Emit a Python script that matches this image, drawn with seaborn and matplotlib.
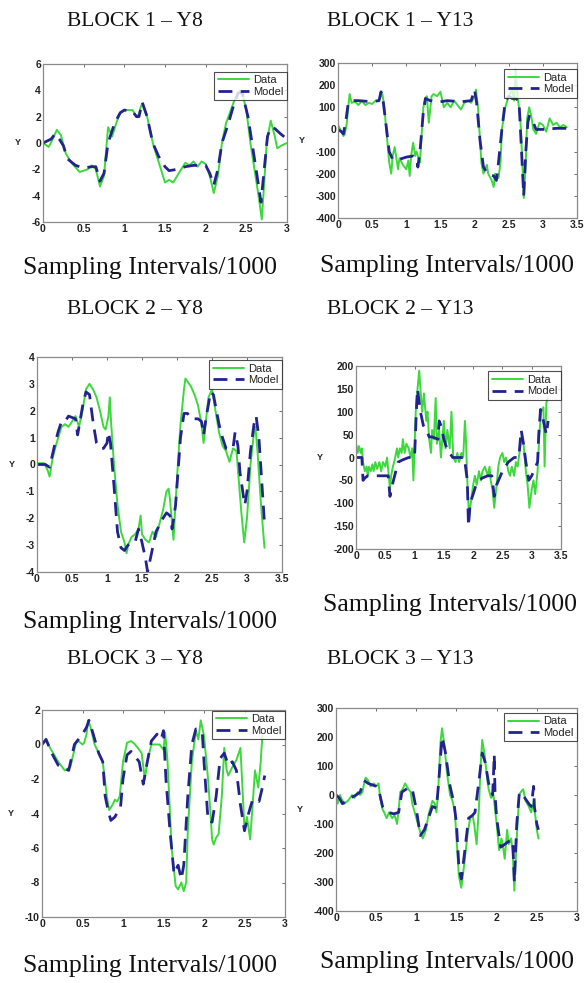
import matplotlib
matplotlib.use("Agg")
import matplotlib.pyplot as plt
import seaborn as sns
import pandas as pd

# ---------------- data ----------------
# BLOCK 1 - Y8
b1y8_data_x = [0, 0.07, 0.12, 0.17, 0.22, 0.28, 0.35, 0.45, 0.55, 0.6, 0.65, 0.7, 0.75, 0.8, 0.85, 0.9, 0.95, 1.0, 1.1,
               1.15, 1.18, 1.2, 1.22, 1.28, 1.35, 1.4, 1.45, 1.5, 1.55, 1.6, 1.65, 1.7, 1.75, 1.8, 1.85, 1.9, 1.95,
               2.0, 2.05, 2.1, 2.15, 2.2, 2.25, 2.28, 2.35, 2.42, 2.45, 2.5, 2.55, 2.6, 2.65, 2.69, 2.72, 2.75, 2.8,
               2.85, 2.88, 2.93, 3.0]
b1y8_data_y = [0, -0.3, 0.3, 1.0, 0.6, -0.8, -1.5, -2.2, -2.0, -1.7, -2.0, -3.3, -2.5, 1.2, 0.5, 1.5, 2.3, 2.5, 2.5,
               2.0, 2.2, 2.7, 3.0, 2.0, 0.0, -1.0, -2.0, -3.0, -2.8, -3.0, -2.5, -2.0, -1.5, -1.7, -1.4, -1.8, -1.4,
               -1.6, -2.5, -3.8, -2.5, 0.0, 1.5, 2.0, 3.2, 4.0, 3.8, 2.5, 0.0, -2.0, -4.0, -5.8, -3.0, 0.0, 1.7,
               0.5, -0.4, -0.2, 0.0]
b1y8_model_x = [0, 0.1, 0.15, 0.2, 0.25, 0.3, 0.4, 0.5, 0.6, 0.65, 0.7, 0.75, 0.8, 0.88, 0.95, 1.0, 1.1, 1.15, 1.18,
                1.22, 1.28, 1.35, 1.42, 1.5, 1.55, 1.65, 1.75, 1.85, 2.0, 2.05, 2.1, 2.15, 2.2, 2.28, 2.35, 2.4, 2.45,
                2.52, 2.57, 2.62, 2.68, 2.72, 2.76, 2.8, 2.85, 2.92, 3.0]
b1y8_model_y = [0, 0.3, 0.7, 0.3, -0.2, -1.2, -1.7, -1.9, -1.8, -1.8, -2.9, -2.3, 0.0, 1.5, 2.3, 2.5, 2.4, 2.0, 2.0,
                3.1, 2.0, 0.0, -1.0, -1.8, -2.1, -2.0, -1.8, -1.7, -1.7, -2.3, -3.2, -2.0, 0.0, 1.5, 3.0, 3.8, 3.8,
                2.0, 0.0, -2.0, -4.5, -2.0, 0.5, 1.2, 1.1, 0.7, 0.3]

# BLOCK 1 - Y13
b1y13_data_x = [0, 0.05, 0.08, 0.1, 0.13, 0.15, 0.17, 0.2, 0.25, 0.3, 0.35, 0.4, 0.45, 0.5, 0.55, 0.6, 0.63, 0.65,
                0.68, 0.7, 0.73, 0.75, 0.78, 0.8, 0.83, 0.85, 0.88, 0.9, 0.95, 1.0, 1.03, 1.05, 1.07, 1.1, 1.13,
                1.15, 1.18, 1.2, 1.22, 1.25, 1.28, 1.3, 1.33, 1.37, 1.4, 1.45, 1.5, 1.55, 1.6, 1.65, 1.7, 1.75,
                1.8, 1.85, 1.9, 1.95, 2.0, 2.02, 2.05, 2.08, 2.1, 2.13, 2.15, 2.18, 2.2, 2.25, 2.28, 2.3, 2.35,
                2.38, 2.4, 2.45, 2.5, 2.55, 2.58, 2.6, 2.63, 2.67, 2.7, 2.72, 2.75, 2.77, 2.8, 2.83, 2.86, 2.9,
                2.95, 3.0, 3.05, 3.1, 3.15, 3.2, 3.25, 3.3, 3.35]
b1y13_data_y = [20, -10, -30, -20, 30, 100, 160, 120, 125, 110, 130, 110, 120, 115, 130, 130, 150, 160,
                100, 20, -80, -150, -200, -120, -80, -120, -180, -130, -160, -180, -140, -210, -120, -60, -120,
                -100, -130, -150, -50, 100, 140, 150, 30, 150, 160, 150, 170, 100, 120, 100, 130, 110,
                90, 120, 130, 120, 150, 180, 100, -50, -150, -200, -180, -160, -200, -230, -260, -200, -220,
                -150, 0, 100, 150, 180, 130, 270, 150, 50, -150, -310, -150, 50, 100, 60, 0, -20,
                30, 20, -10, 50, 20, 30, 10, 20, 10]
b1y13_model_x = [0, 0.05, 0.08, 0.12, 0.15, 0.2, 0.3, 0.5, 0.6, 0.63, 0.66, 0.7, 0.75, 0.8, 0.9, 1.0, 1.1, 1.15,
                 1.17, 1.2, 1.25, 1.28, 1.35, 1.5, 1.6, 1.8, 1.95, 2.0, 2.03, 2.08, 2.13, 2.2, 2.28, 2.32, 2.35,
                 2.4, 2.45, 2.5, 2.55, 2.6, 2.65, 2.68, 2.72, 2.75, 2.78, 2.8, 2.85, 2.9, 3.0, 3.2, 3.35]
b1y13_model_y = [0, -10, -20, 50, 120, 130, 130, 125, 130, 170, 130, 30, -100, -135, -135, -125, -120, -130,
                 -170, -100, 80, 140, 130, 125, 130, 125, 130, 180, 120, -50, -170, -205, -210, -230, -150,
                 0, 130, 150, 140, 140, 130, -50, -300, -100, 30, 60, 40, 0, 0, 5, 5]

# BLOCK 2 - Y8
b2y8_data_x = [0, 0.1, 0.15, 0.18, 0.22, 0.28, 0.35, 0.4, 0.45, 0.5, 0.55, 0.6, 0.65, 0.7, 0.75, 0.8, 0.85, 0.9,
               0.95, 0.98, 1.02, 1.04, 1.06, 1.1, 1.15, 1.2, 1.25, 1.28, 1.3, 1.35, 1.4, 1.45, 1.48, 1.5, 1.55,
               1.6, 1.65, 1.7, 1.75, 1.8, 1.85, 1.88, 1.9, 1.95, 2.0, 2.05, 2.1, 2.12, 2.2, 2.25, 2.3, 2.35,
               2.38, 2.42, 2.45, 2.5, 2.55, 2.6, 2.65, 2.7, 2.75, 2.8, 2.85, 2.88, 2.92, 2.96, 3.0, 3.05, 3.1,
               3.12, 3.15, 3.2, 3.25]
b2y8_data_y = [0.05, 0.05, -0.2, -0.45, 0.2, 0.8, 1.4, 1.5, 1.4, 1.6, 1.8, 1.4, 2.0, 2.8, 3.0, 2.8, 2.5, 2.0,
               1.4, 1.3, 1.8, 2.5, 1.5, 0.0, -1.5, -2.5, -2.9, -3.3, -3.0, -2.7, -2.6, -2.4, -1.9, -2.6, -2.8,
               -2.9, -2.5, -2.7, -2.2, -1.7, -1.0, -0.9, -1.3, -2.8, -0.5, 1.5, 2.8, 3.2, 2.9, 2.6, 2.2, 1.5,
               0.8, 1.8, 2.5, 2.8, 2.0, 1.2, 0.7, 0.5, 0.1, 0.6, 0.5, -0.5, -1.8, -2.9, -2.0, 0.0, 1.2,
               1.4, 0.5, -1.5, -3.1]
b2y8_model_x = [0, 0.12, 0.18, 0.25, 0.3, 0.35, 0.4, 0.45, 0.5, 0.55, 0.58, 0.62, 0.66, 0.7, 0.75, 0.8, 0.85,
                0.9, 0.95, 1.0, 1.02, 1.05, 1.1, 1.15, 1.2, 1.25, 1.3, 1.35, 1.4, 1.45, 1.5, 1.55, 1.58, 1.62,
                1.7, 1.8, 1.85, 1.9, 1.93, 1.98, 2.05, 2.1, 2.15, 2.2, 2.3, 2.35, 2.38, 2.42, 2.48, 2.52, 2.6,
                2.65, 2.7, 2.8, 2.83, 2.87, 2.9, 2.95, 2.97, 3.0, 3.05, 3.1, 3.13, 3.17, 3.22, 3.25]
b2y8_model_y = [0, 0, -0.1, 0.7, 1.2, 1.6, 1.6, 1.8, 1.75, 1.7, 1.1, 1.7, 2.3, 2.7, 2.6, 1.6, 0.8,
                0.6, 0.6, 0.8, 1.2, 0.8, -0.8, -2.5, -3.1, -3.2, -3.0, -2.9, -2.9, -2.4, -2.9, -3.5, -4.0, -3.5,
                -2.5, -2.0, -1.8, -1.9, -2.4, -1.5, 1.0, 1.9, 1.9, 1.7, 1.7, 1.6, 1.1, 1.8, 2.7, 2.6, 1.5,
                1.0, 0.6, 0.6, 1.2, 0.7, -0.3, -1.2, -1.5, -1.0, 0.5, 1.5, 1.8, 1.0, -1.0, -2.2]

# BLOCK 2 - Y13
b2y13_data_x = [0, 0.03, 0.05, 0.08, 0.1, 0.12, 0.15, 0.18, 0.2, 0.22, 0.25, 0.28, 0.3, 0.33, 0.36, 0.4, 0.43,
                0.46, 0.5, 0.53, 0.56, 0.58, 0.6, 0.63, 0.66, 0.7, 0.72, 0.75, 0.78, 0.8, 0.83, 0.86, 0.9, 0.93,
                0.96, 0.98, 1.0, 1.02, 1.05, 1.08, 1.1, 1.13, 1.16, 1.2, 1.22, 1.25, 1.28, 1.3, 1.33, 1.36,
                1.38, 1.42, 1.45, 1.48, 1.5, 1.53, 1.56, 1.6, 1.63, 1.66, 1.7, 1.73, 1.76, 1.8, 1.83, 1.86,
                1.88, 1.9, 1.93, 1.96, 2.0, 2.03, 2.06, 2.1, 2.13, 2.16, 2.2, 2.25, 2.28, 2.3, 2.33, 2.36,
                2.4, 2.43, 2.46, 2.5, 2.53, 2.56, 2.6, 2.63, 2.66, 2.7, 2.73, 2.76, 2.8, 2.83, 2.86, 2.9,
                2.93, 2.96, 3.0, 3.03, 3.06, 3.1, 3.13, 3.16, 3.2, 3.22, 3.25, 3.28]
b2y13_data_y = [30, 10, 25, 10, 20, -10, -30, -20, -40, -20, -30, -15, -30, -10, -25, -10, -30,
                -10, -20, 0, -40, -70, -40, -20, -5, 20, 0, 20, 10, 40, 10, 30, 20, 0,
                20, -50, 20, 100, 150, 190, 150, 100, 140, 80, 100, 40, 10, 60, 40, 130,
                30, 60, 0, 50, 80, 20, 60, 20, 100, 0, -10, 10, -10, 10, 0, 80,
                30, -50, -130, -100, -60, -40, -60, -30, -50, -30, -20, -40, -20, -50, -70, -110,
                -60, -20, 0, 10, -10, 0, -30, -40, -20, -40, -10, -20, 20, 50, 30, -30,
                -60, -110, -70, -50, -80, -30, 50, 100, 110, -20, 120, 130]
b2y13_model_x = [0, 0.1, 0.12, 0.15, 0.2, 0.3, 0.4, 0.5, 0.55, 0.58, 0.62, 0.68, 0.72, 0.8, 0.9, 1.0, 1.03,
                 1.05, 1.07, 1.1, 1.15, 1.2, 1.25, 1.3, 1.4, 1.42, 1.45, 1.5, 1.55, 1.6, 1.65, 1.75, 1.85, 1.9,
                 1.92, 1.95, 2.0, 2.05, 2.15, 2.25, 2.32, 2.36, 2.4, 2.5, 2.6, 2.7, 2.78, 2.82, 2.86, 2.9,
                 2.95, 3.0, 3.1, 3.12, 3.15, 3.2, 3.25, 3.28]
b2y13_model_y = [0, 0, -50, -45, -40, -40, -40, -40, -40, -85, -60, -30, -10, -5, 0, 0, 100,
                 150, 130, 100, 70, 60, 45, 45, 40, 80, 70, 40, 20, 10, 0, 0, 0, -50,
                 -150, -100, -80, -60, -45, -40, -40, -85, -60, -30, -10, 0, 0, 60, 30, -10,
                 -50, -40, -10, 50, 105, 80, 50, 80]

# BLOCK 3 - Y8
b3y8_data_x = [0, 0.05, 0.1, 0.2, 0.28, 0.35, 0.42, 0.45, 0.5, 0.52, 0.55, 0.57, 0.6, 0.65, 0.7, 0.75, 0.8, 0.83,
               0.87, 0.9, 0.93, 0.96, 1.0, 1.05, 1.1, 1.15, 1.2, 1.23, 1.27, 1.3, 1.35, 1.4, 1.45, 1.5, 1.52,
               1.55, 1.6, 1.65, 1.68, 1.72, 1.75, 1.78, 1.8, 1.85, 1.9, 1.93, 1.96, 2.0, 2.05, 2.08, 2.1, 2.12,
               2.15, 2.18, 2.22, 2.25, 2.28, 2.3, 2.35, 2.4, 2.45, 2.48, 2.5, 2.53, 2.57, 2.6, 2.63, 2.67, 2.7,
               2.72]
b3y8_data_y = [0, 0.25, -0.2, -1.0, -1.5, -1.3, 0.1, 0.2, 0, 0.1, 0.6, 1.4, 1.0, 0, -0.5, -1.0, -3.0, -3.8,
               -3.5, -3.2, -3.3, -3.0, -1.0, 0.1, 0.2, 0, -0.3, -0.5, -2.0, -1.0, 0, 0, 0, -0.3, 0.7,
               -1.0, -6.0, -8.2, -8.4, -8.0, -8.5, -8.0, -5.0, -1.0, 0.8, 0.3, 1.4, 0.5, -2.0, -4.0, -5.5, -5.8,
               -5.4, -5.2, -3.0, -0.2, -1.5, -1.8, -1.3, -0.9, -0.2, -3.0, -5.0, -4.2, -5.5, -3.5, -1.5, -2.5, -1.0,
               0.5]
b3y8_model_x = [0, 0.05, 0.12, 0.2, 0.28, 0.33, 0.4, 0.45, 0.5, 0.55, 0.58, 0.62, 0.7, 0.75, 0.78, 0.82, 0.85,
                0.9, 0.97, 1.0, 1.05, 1.1, 1.15, 1.2, 1.25, 1.3, 1.35, 1.42, 1.47, 1.5, 1.53, 1.58, 1.63, 1.68,
                1.72, 1.75, 1.8, 1.85, 1.9, 1.95, 1.98, 2.0, 2.05, 2.1, 2.15, 2.2, 2.25, 2.3, 2.35, 2.4, 2.45,
                2.5, 2.55, 2.6, 2.65, 2.68, 2.72, 2.75]
b3y8_model_y = [0, 0.3, -0.5, -1.2, -1.4, -1.5, 0, 0.3, 0.6, 1.0, 1.4, 0.8, -0.5, -1.0, -3.0, -3.9, -4.4,
                -4.2, -3.6, -2.0, -0.6, -0.4, -0.7, -1.0, -2.3, -1.0, 0.2, 0.6, 0.3, 0.8, -2.0, -5.0, -7.5, -7.0,
                -7.8, -7.0, -3.0, 0, 0.9, 0.8, 0.6, -1.0, -4.4, -4.5, -3.0, -0.8, -0.5, -1.2, -1.0, -1.5, -3.5,
                -5.0, -4.0, -3.2, -3.2, -3.3, -2.5, -1.8]

# BLOCK 3 - Y13
b3y13_data_x = [0, 0.02, 0.05, 0.08, 0.1, 0.15, 0.2, 0.23, 0.27, 0.3, 0.33, 0.35, 0.37, 0.4, 0.43, 0.47, 0.5,
                0.53, 0.55, 0.58, 0.6, 0.63, 0.66, 0.7, 0.73, 0.76, 0.78, 0.8, 0.83, 0.86, 0.9, 0.93, 0.95,
                1.0, 1.05, 1.08, 1.12, 1.15, 1.18, 1.2, 1.23, 1.25, 1.27, 1.3, 1.32, 1.35, 1.38, 1.42, 1.45,
                1.48, 1.5, 1.53, 1.56, 1.6, 1.64, 1.67, 1.7, 1.72, 1.75, 1.78, 1.8, 1.82, 1.85, 1.88, 1.9,
                1.93, 1.96, 2.0, 2.03, 2.06, 2.08, 2.1, 2.13, 2.15, 2.18, 2.2, 2.22, 2.25, 2.28, 2.3, 2.33,
                2.36, 2.4, 2.43, 2.46, 2.5, 2.52]
b3y13_data_y = [0, -30, 0, -20, -30, -20, 0, -10, 10, 0, 10, 40, 60, 50, 30, 40, 30,
                40, -10, -50, -60, -80, -60, -80, -70, -100, -50, 10, 20, 40, 20, 10, -30,
                -80, -130, -150, -120, -70, -40, -20, -30, -60, 0, 180, 230, 170, 80, 0, -20,
                -60, -150, -280, -320, -230, -130, -80, -70, -100, -170, -40, 100, 190, 140, 60, 20,
                -10, 0, -100, -190, -150, -180, -220, -120, -170, -150, -200, -330, -150, 0, 10, 20,
                -20, -40, -60, -20, -120, -150]
b3y13_model_x = [0, 0.04, 0.08, 0.15, 0.25, 0.3, 0.35, 0.4, 0.5, 0.53, 0.58, 0.65, 0.72, 0.78, 0.82, 0.9, 0.95,
                 1.0, 1.05, 1.1, 1.15, 1.2, 1.25, 1.28, 1.32, 1.36, 1.42, 1.47, 1.5, 1.53, 1.56, 1.6, 1.65, 1.7,
                 1.73, 1.78, 1.82, 1.86, 1.9, 1.95, 1.97, 1.98, 2.0, 2.05, 2.1, 2.15, 2.2, 2.22, 2.25, 2.28,
                 2.3, 2.35, 2.4, 2.43, 2.46, 2.47, 2.5, 2.52]
b3y13_model_y = [0, -10, -30, -15, 0, 10, 50, 40, 30, 20, -40, -60, -65, -60, 10, 25, 20,
                 -50, -140, -120, -80, -40, -45, 50, 200, 150, 30, -30, -100, -250, -290, -200, -80, -70,
                 -60, 50, 145, 110, 40, 0, 140, 0, -80, -180, -170, -160, -155, -300, -100, 0,
                 10, -10, -30, -40, 30, -40, -100, -120]

titles = ["BLOCK 1 \u2013 Y8", "BLOCK 1 \u2013 Y13", "BLOCK 2 \u2013 Y8",
          "BLOCK 2 \u2013 Y13", "BLOCK 3 \u2013 Y8", "BLOCK 3 \u2013 Y13"]
xlabel_text = "Sampling Intervals/1000"
legend_labels = ["Data", "Model"]

# ---------------- figure ----------------
sns.set_style("white")
plt.rcParams["font.family"] = ["Liberation Sans", "DejaVu Sans"]

W, H = 584, 983
fig = plt.figure(figsize=(W / 100, H / 100), dpi=100)
fig.patch.set_facecolor("white")

GREEN = "#3cd83c"
BLUE = "#23238f"


def add_ax(l, t, r, b):
    return fig.add_axes([l / W, 1 - b / H, (r - l) / W, (b - t) / H])


panels = [
    dict(box=(43, 64, 287, 222), dx=b1y8_data_x, dy=b1y8_data_y, mx=b1y8_model_x, my=b1y8_model_y,
         xlim=(0, 3), xt=[0, 0.5, 1, 1.5, 2, 2.5, 3], ylim=(-6, 6), yt=[-6, -4, -2, 0, 2, 4, 6], leg=0.95),
    dict(box=(338, 63, 577, 218), dx=b1y13_data_x, dy=b1y13_data_y, mx=b1y13_model_x, my=b1y13_model_y,
         xlim=(0, 3.5), xt=[0, 0.5, 1, 1.5, 2, 2.5, 3, 3.5], ylim=(-400, 300),
         yt=[-400, -300, -200, -100, 0, 100, 200, 300], leg=0.96),
    dict(box=(37, 357, 282, 572), dx=b2y8_data_x, dy=b2y8_data_y, mx=b2y8_model_x, my=b2y8_model_y,
         xlim=(0, 3.5), xt=[0, 0.5, 1, 1.5, 2, 2.5, 3, 3.5], ylim=(-4, 4),
         yt=[-4, -3, -2, -1, 0, 1, 2, 3, 4], leg=0.985),
    dict(box=(356, 366, 561, 549), dx=b2y13_data_x, dy=b2y13_data_y, mx=b2y13_model_x, my=b2y13_model_y,
         xlim=(0, 3.5), xt=[0, 0.5, 1, 1.5, 2, 2.5, 3, 3.5], ylim=(-200, 200),
         yt=[-200, -150, -100, -50, 0, 50, 100, 150, 200], leg=0.97),
    dict(box=(42, 710, 285, 917), dx=b3y8_data_x, dy=b3y8_data_y, mx=b3y8_model_x, my=b3y8_model_y,
         xlim=(0, 3), xt=[0, 0.5, 1, 1.5, 2, 2.5, 3], ylim=(-10, 2),
         yt=[-10, -8, -6, -4, -2, 0, 2], leg=0.995),
    dict(box=(336, 708, 577, 911), dx=b3y13_data_x, dy=b3y13_data_y, mx=b3y13_model_x, my=b3y13_model_y,
         xlim=(0, 3), xt=[0, 0.5, 1, 1.5, 2, 2.5, 3], ylim=(-400, 300),
         yt=[-400, -300, -200, -100, 0, 100, 200, 300], leg=0.975),
]


def fmt(v):
    if float(v).is_integer():
        return str(int(v))
    return ("%g" % v)


for p in panels:
    ax = add_ax(*p["box"])
    ddf = pd.DataFrame({"x": p["dx"], "y": p["dy"]})
    mdf = pd.DataFrame({"x": p["mx"], "y": p["my"]})
    sns.lineplot(data=ddf, x="x", y="y", ax=ax, color=GREEN, lw=1.4, estimator=None,
                 sort=False, label=legend_labels[0])
    sns.lineplot(data=mdf, x="x", y="y", ax=ax, color=BLUE, lw=2.0, estimator=None,
                 sort=False, linestyle=(0, (5, 3)), label=legend_labels[1])
    ax.set_xlim(*p["xlim"])
    ax.set_ylim(*p["ylim"])
    ax.set_xticks(p["xt"])
    ax.set_xticklabels([fmt(v) for v in p["xt"]])
    ax.set_yticks(p["yt"])
    ax.set_yticklabels([fmt(v) for v in p["yt"]])
    ax.tick_params(direction="in", length=2.5, width=0.6, top=True, right=True,
                   labelsize=7.5, colors="#555555", labelcolor="#222222", pad=1.5)
    for lab in ax.get_xticklabels() + ax.get_yticklabels():
        lab.set_fontweight("bold")
    for s in ax.spines.values():
        s.set_color("#8a8a8a")
        s.set_linewidth(0.9)
    ax.set_xlabel("")
    ax.set_ylabel("Y", rotation=0, fontsize=6.5, fontweight="bold", color="#222222", labelpad=10, va="center")
    leg = ax.legend(loc="upper right", bbox_to_anchor=(1.0, p["leg"]), borderaxespad=0,
                    fontsize=8, frameon=True, fancybox=False, handlelength=2.8,
                    handletextpad=0.4, borderpad=0.3, labelspacing=0.15)
    leg.get_frame().set_edgecolor("#222222")
    leg.get_frame().set_linewidth(0.8)
    for t in leg.get_texts():
        t.set_color("#222222")

# titles and x-labels
serif = ["Liberation Serif", "DejaVu Serif"]
title_pos = [(135, 22), (400, 22), (135, 310), (400, 310), (135, 660), (400, 660)]
xlab_pos = [(150, 268), (447, 266), (150, 622), (450, 605), (150, 966), (447, 962)]
for (x, y), t in zip(title_pos, titles):
    fig.text(x / W, 1 - y / H, t, ha="center", va="center", fontsize=15.5, family=serif, color="#111111")
for (x, y) in xlab_pos:
    fig.text(x / W, 1 - y / H, xlabel_text, ha="center", va="center", fontsize=18.5, family=serif,
             color="#111111")

fig.savefig("out.png", dpi=100, facecolor="white")
